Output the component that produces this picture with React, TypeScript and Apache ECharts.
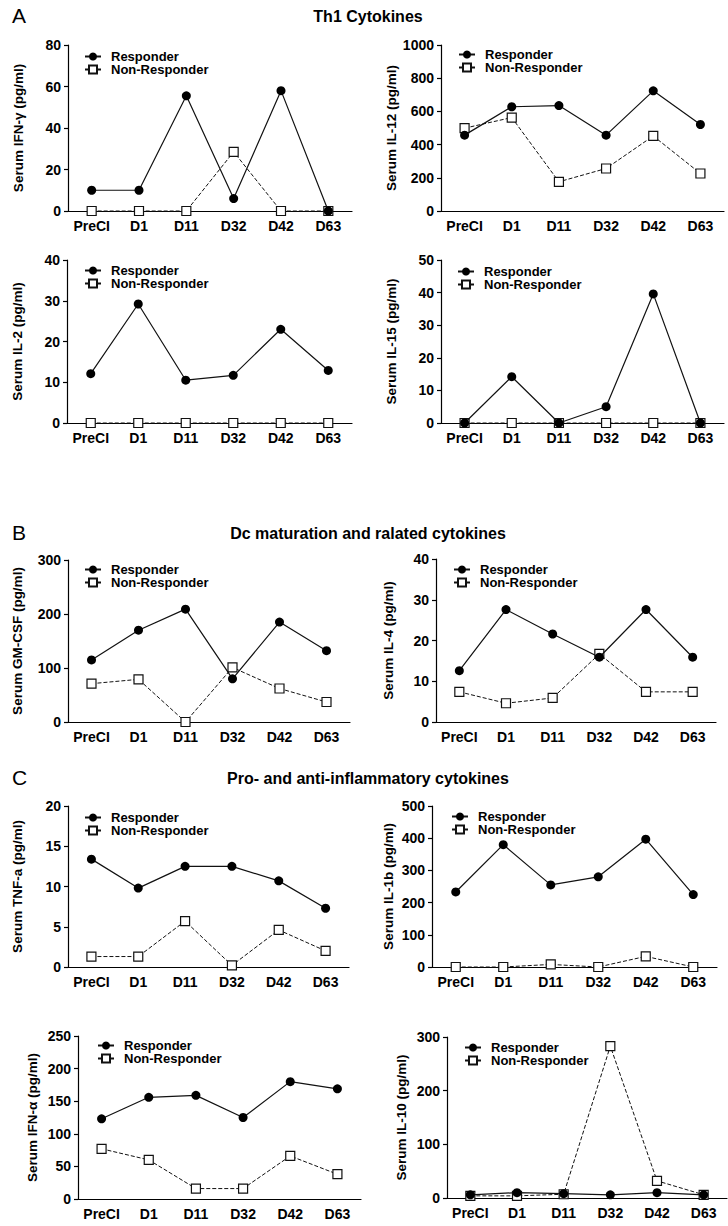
import React, { useEffect, useRef } from "react";
import * as echarts from "echarts";

const categories = ["PreCI", "D1", "D11", "D32", "D42", "D63"];

const ifngR = [10, 10, 55.5, 6, 58, 0];
const ifngN = [0, 0, 0, 28.5, 0, 0];
const il12R = [457, 628, 635, 457, 724, 521];
const il12N = [499, 563, 176, 256, 452, 226];
const il2R = [12.1, 29.2, 10.5, 11.7, 23, 12.9];
const il2N = [0, 0, 0, 0, 0, 0];
const il15R = [0, 14.2, 0, 5, 39.6, 0];
const il15N = [0, 0, 0, 0, 0, 0];
const gmR = [115, 170, 209, 80, 185, 132];
const gmN = [71, 79, 0, 101, 62, 37];
const il4R = [12.6, 27.6, 21.6, 15.9, 27.6, 15.9];
const il4N = [7.4, 4.6, 5.9, 16.7, 7.4, 7.4];
const tnfR = [13.4, 9.8, 12.5, 12.5, 10.7, 7.3];
const tnfN = [1.3, 1.3, 5.7, 0.2, 4.6, 2.0];
const il1bR = [233, 380, 255, 280, 397, 225];
const il1bN = [0, 0, 8, 0, 33, 0];
const ifnaR = [123, 156, 159, 125, 180, 169];
const ifnaN = [77, 60, 16, 16, 66, 38];
const il10R = [6, 10, 8, 6, 10, 6];
const il10N = [4, 4, 7, 283, 32, 6];

const yNames = [
  "Serum IFN-γ (pg/ml)",
  "Serum IL-12 (pg/ml)",
  "Serum IL-2 (pg/ml)",
  "Serum IL-15 (pg/ml)",
  "Serum GM-CSF (pg/ml)",
  "Serum IL-4 (pg/ml)",
  "Serum TNF-a (pg/ml)",
  "Serum IL-1b (pg/ml)",
  "Serum IFN-α (pg/ml)",
  "Serum IL-10 (pg/ml)",
];
const yMax = [80, 1000, 40, 50, 300, 40, 20, 500, 250, 300];
const yStep = [20, 200, 10, 10, 100, 10, 5, 100, 50, 100];
const respData = [ifngR, il12R, il2R, il15R, gmR, il4R, tnfR, il1bR, ifnaR, il10R];
const nonData = [ifngN, il12N, il2N, il15N, gmN, il4N, tnfN, il1bN, ifnaN, il10N];

const sectionLetters = ["A", "B", "C"];
const sectionTitles = [
  "Th1 Cytokines",
  "Dc maturation and ralated cytokines",
  "Pro- and anti-inflammatory cytokines",
];

// layout: [left, top, width, height, nameCenterX, legendSymbolX, legendTopY]
const layout = [
  [68, 45, 284, 166, 19, 87, 54],
  [441, 45, 283, 166, 392, 461, 52],
  [67, 260, 285, 163, 18, 87, 268],
  [441, 260, 283, 163, 392, 460, 269],
  [68, 560, 282, 162, 18, 87, 567],
  [436, 559, 280, 163, 389, 456, 567],
  [68, 806, 281, 161, 18, 87, 815],
  [432, 806, 285, 161, 389, 454, 814],
  [78, 1036, 283, 163, 33, 100, 1043],
  [447, 1037, 280, 161, 402, 467, 1045],
];
const sectionY = [16, 533, 778];

const FONT = "'Liberation Sans', Arial, sans-serif";
const NAME_SIZE = 13.5;

export default function App() {
  const ref = useRef<HTMLDivElement>(null);
  useEffect(() => {
    document.body.style.margin = "0";
    const chart = echarts.init(ref.current!, undefined, { renderer: "svg" });
    const grid: any[] = [];
    const xAxis: any[] = [];
    const yAxis: any[] = [];
    const series: any[] = [];
    const legend: any[] = [];
    layout.forEach((l, i) => {
      const [left, top, width, height, nameX, lx, ly] = l;
      grid.push({ left, top, width, height, containLabel: false });
      xAxis.push({
        type: "category",
        gridIndex: i,
        data: categories,
        boundaryGap: true,
        axisLine: { lineStyle: { color: "#000", width: 1.2 } },
        axisTick: { alignWithLabel: true, length: 4, lineStyle: { color: "#000", width: 1.2 } },
        axisLabel: { color: "#000", fontWeight: "bold", fontSize: 14, fontFamily: FONT, margin: 8, interval: 0 },
        splitLine: { show: false },
      });
      yAxis.push({
        type: "value",
        gridIndex: i,
        min: 0,
        max: yMax[i],
        interval: yStep[i],
        name: yNames[i],
        nameLocation: "middle",
        nameGap: left - nameX - NAME_SIZE / 2,
        nameTextStyle: { color: "#000", fontSize: NAME_SIZE, fontWeight: "bold", fontFamily: FONT },
        axisLine: { show: true, lineStyle: { color: "#000", width: 1.2 } },
        axisTick: { show: true, length: 4, lineStyle: { color: "#000", width: 1.2 } },
        axisLabel: {
          color: "#000",
          fontWeight: "bold",
          fontSize: 14,
          fontFamily: FONT,
          margin: 7,
          formatter: (v: number) => String(v),
        },
        splitLine: { show: false },
      });
      series.push({
        type: "line",
        name: "Non-Responder",
        xAxisIndex: i,
        yAxisIndex: i,
        data: nonData[i],
        symbol: "rect",
        symbolSize: 9,
        clip: false,
        z: 2,
        lineStyle: { color: "#111", width: 1, type: [4, 2] },
        itemStyle: { color: "#fff", borderColor: "#111", borderWidth: 1.2 },
      });
      series.push({
        type: "line",
        name: "Responder",
        xAxisIndex: i,
        yAxisIndex: i,
        data: respData[i],
        symbol: "circle",
        symbolSize: 9,
        clip: false,
        z: 3,
        lineStyle: { color: "#111", width: 1.2 },
        itemStyle: { color: "#000", borderColor: "#000", borderWidth: 0 },
      });
      legend.push({
        data: ["Responder", "Non-Responder"],
        orient: "vertical",
        left: lx - 8,
        top: ly - 9,
        itemWidth: 16,
        itemHeight: 10,
        itemGap: 0,
        selectedMode: false,
        textStyle: { color: "#000", fontSize: 13, fontWeight: "bold", fontFamily: FONT, padding: [0, 0, 0, 5] },
      });
    });
    const graphic: any[] = [];
    sectionY.forEach((y, k) => {
      graphic.push({
        type: "text",
        left: 12,
        top: y - 11,
        style: { text: sectionLetters[k], fontSize: 21, fontFamily: FONT, fill: "#000" },
      });
      graphic.push({
        type: "text",
        x: 368,
        y: y,
        style: {
          text: sectionTitles[k],
          fontSize: 16,
          fontWeight: "bold",
          fontFamily: FONT,
          fill: "#000",
          align: "center",
          verticalAlign: "middle",
        },
      });
    });
    chart.setOption({
      animation: false,
      backgroundColor: "#fff",
      grid,
      xAxis,
      yAxis,
      series,
      legend,
      graphic,
    });
    return () => chart.dispose();
  }, []);
  return <div ref={ref} style={{ width: 728, height: 1226 }} />;
}
